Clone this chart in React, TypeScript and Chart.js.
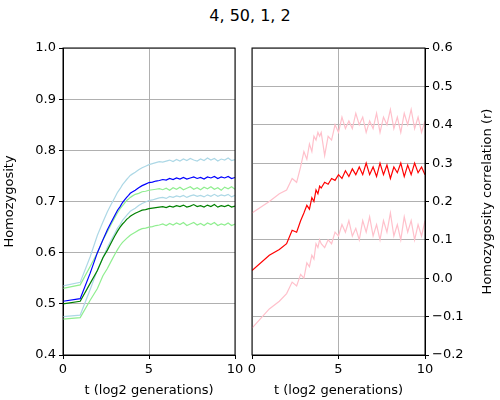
import { useEffect, useRef } from "react"
import { Chart, registerables } from "chart.js"

Chart.register(...registerables)

const tValues = [0, 1, 1.58, 2, 2.32, 2.58, 2.81, 3, 3.17, 3.32, 3.46, 3.58, 3.7, 3.81, 3.91,
  4.0, 4.2, 4.4, 4.6, 4.8, 5.0, 5.2, 5.4, 5.6, 5.8, 6.0, 6.2, 6.4, 6.6, 6.8, 7.0, 7.2, 7.4, 7.6, 7.8,
  8.0, 8.2, 8.4, 8.6, 8.8, 9.0, 9.2, 9.4, 9.6, 9.8, 10]

const blueMean = [0.505, 0.51, 0.56, 0.6, 0.625, 0.645, 0.66, 0.672, 0.683, 0.69, 0.698, 0.703, 0.708, 0.712, 0.716,
  0.718, 0.722, 0.727, 0.731, 0.734, 0.737, 0.738, 0.74, 0.741, 0.743, 0.742, 0.745, 0.743, 0.746, 0.744, 0.747, 0.744, 0.746, 0.748, 0.745,
  0.747, 0.744, 0.748, 0.746, 0.749, 0.745, 0.748, 0.746, 0.749, 0.745, 0.747]
const blueUpper = [0.535, 0.542, 0.592, 0.634, 0.66, 0.68, 0.695, 0.707, 0.718, 0.725, 0.733, 0.738, 0.743, 0.747, 0.751,
  0.753, 0.757, 0.762, 0.766, 0.769, 0.772, 0.774, 0.776, 0.778, 0.777, 0.779, 0.781, 0.778, 0.782, 0.779, 0.783, 0.78, 0.784, 0.781, 0.779,
  0.783, 0.78, 0.785, 0.781, 0.784, 0.779, 0.783, 0.781, 0.785, 0.78, 0.782]
const blueLower = [0.475, 0.478, 0.528, 0.566, 0.59, 0.61, 0.625, 0.637, 0.648, 0.655, 0.663, 0.668, 0.673, 0.677, 0.681,
  0.683, 0.687, 0.692, 0.696, 0.699, 0.702, 0.703, 0.705, 0.707, 0.708, 0.706, 0.71, 0.708, 0.711, 0.709, 0.712, 0.708, 0.711, 0.713, 0.71,
  0.712, 0.709, 0.713, 0.71, 0.714, 0.71, 0.713, 0.711, 0.714, 0.709, 0.712]
const greenMean = [0.5, 0.505, 0.54, 0.565, 0.59, 0.605, 0.62, 0.632, 0.642, 0.65, 0.656, 0.66, 0.665, 0.668, 0.671,
  0.673, 0.677, 0.68, 0.683, 0.684, 0.686, 0.687, 0.688, 0.689, 0.69, 0.688, 0.691, 0.689, 0.692, 0.69, 0.693, 0.689, 0.691, 0.694, 0.69,
  0.692, 0.689, 0.693, 0.69, 0.694, 0.689, 0.692, 0.69, 0.693, 0.689, 0.691]
const greenUpper = [0.53, 0.537, 0.573, 0.6, 0.625, 0.641, 0.656, 0.668, 0.678, 0.686, 0.692, 0.697, 0.702, 0.705, 0.708,
  0.71, 0.714, 0.716, 0.719, 0.72, 0.722, 0.723, 0.724, 0.725, 0.723, 0.726, 0.722, 0.727, 0.724, 0.728, 0.723, 0.726, 0.729, 0.724, 0.727,
  0.723, 0.728, 0.725, 0.729, 0.724, 0.727, 0.722, 0.728, 0.725, 0.729, 0.724]
const greenLower = [0.47, 0.473, 0.507, 0.53, 0.555, 0.569, 0.584, 0.596, 0.606, 0.614, 0.62, 0.624, 0.628, 0.631, 0.634,
  0.636, 0.64, 0.644, 0.647, 0.648, 0.65, 0.651, 0.653, 0.654, 0.656, 0.653, 0.657, 0.654, 0.658, 0.655, 0.659, 0.653, 0.656, 0.659, 0.654,
  0.657, 0.653, 0.658, 0.655, 0.659, 0.653, 0.656, 0.654, 0.658, 0.653, 0.656]

const redMean = [0.02, 0.06, 0.075, 0.09, 0.125, 0.12, 0.15, 0.17, 0.19, 0.18, 0.21, 0.2, 0.23, 0.22, 0.24,
  0.235, 0.25, 0.245, 0.26, 0.255, 0.27, 0.26, 0.28, 0.265, 0.285, 0.27, 0.29, 0.27, 0.3, 0.27, 0.29, 0.265, 0.3, 0.27, 0.295,
  0.26, 0.29, 0.275, 0.3, 0.265, 0.295, 0.27, 0.3, 0.275, 0.29, 0.27]
const pinkUpper = [0.17, 0.2, 0.22, 0.23, 0.26, 0.25, 0.29, 0.33, 0.31, 0.35, 0.33, 0.37, 0.36, 0.38, 0.37,
  0.38, 0.32, 0.37, 0.36, 0.4, 0.38, 0.42, 0.39, 0.41, 0.39, 0.43, 0.4, 0.42, 0.38, 0.41, 0.39, 0.43, 0.38, 0.42, 0.4,
  0.44, 0.39, 0.42, 0.38, 0.43, 0.4, 0.44, 0.39, 0.42, 0.38, 0.41]
const pinkLower = [-0.13, -0.08, -0.06, -0.04, -0.01, -0.02, 0.01, 0.0, 0.04, 0.03, 0.06, 0.05, 0.09, 0.08, 0.1,
  0.09, 0.08, 0.1, 0.09, 0.12, 0.11, 0.14, 0.12, 0.15, 0.11, 0.13, 0.1, 0.15, 0.12, 0.16, 0.11, 0.14, 0.1, 0.15, 0.12,
  0.17, 0.11, 0.14, 0.1, 0.16, 0.12, 0.15, 0.1, 0.14, 0.11, 0.15]

const FONT = { family: "'DejaVu Sans', sans-serif", size: 13 }
const GRID = "#b0b0b0"
const RIGHT_TITLE = "Homozygosity correlation (r)"

const points = (ys: number[]) => tValues.map((x, i) => ({ x, y: ys[i] }))
const line = (ys: number[], color: string, order: number) => ({
  data: points(ys),
  borderColor: color,
  borderWidth: 1.2,
  pointRadius: 0,
  fill: false,
  order,
})
const fmt = (v: number | string) => Number(v).toFixed(1).replace("-", "\u2212")

// matplotlib-style full frame around the plot area
const framePlugin = {
  id: "frame",
  afterDraw(chart: Chart) {
    const { ctx, chartArea: a } = chart
    ctx.save()
    ctx.strokeStyle = "#000"
    ctx.lineWidth = 1
    ctx.strokeRect(a.left, a.top, a.right - a.left, a.bottom - a.top)
    ctx.restore()
  },
}

// right-side axis title reading bottom-to-top, like matplotlib
const rightTitlePlugin = {
  id: "rightTitle",
  afterDraw(chart: Chart) {
    const { ctx, chartArea: a } = chart
    ctx.save()
    ctx.translate(chart.width - 12, (a.top + a.bottom) / 2)
    ctx.rotate(-Math.PI / 2)
    ctx.fillStyle = "#000"
    ctx.font = "13px 'DejaVu Sans', sans-serif"
    ctx.textAlign = "center"
    ctx.textBaseline = "middle"
    ctx.fillText(RIGHT_TITLE, 0, 0)
    ctx.restore()
  },
}

function Panel({ side }: { side: "left" | "right" }) {
  const ref = useRef<HTMLCanvasElement>(null)

  useEffect(() => {
    if (!ref.current) return
    const isLeft = side === "left"
    const datasets = isLeft
      ? [
          line(blueMean, "#0000ff", 1),
          line(greenMean, "#008000", 2),
          line(blueUpper, "#add8e6", 3),
          line(blueLower, "#add8e6", 4),
          line(greenUpper, "#90ee90", 5),
          line(greenLower, "#90ee90", 6),
        ]
      : [line(redMean, "#ff0000", 1), line(pinkUpper, "#ffc0cb", 2), line(pinkLower, "#ffc0cb", 3)]

    const chart = new Chart(ref.current, {
      type: "line",
      data: { datasets },
      plugins: isLeft ? [framePlugin] : [framePlugin, rightTitlePlugin],
      options: {
        animation: false,
        responsive: false,
        layout: {
          padding: isLeft ? { left: 0, right: 265, top: 48, bottom: 0 } : { left: 252, right: 0, top: 48, bottom: 0 },
        },
        plugins: { legend: { display: false }, tooltip: { enabled: false } },
        scales: {
          x: {
            type: "linear",
            min: 0,
            max: 10,
            ticks: { stepSize: 5, color: "#000", font: FONT, maxRotation: 0 },
            grid: { color: GRID, tickColor: "#000", tickLength: 4 },
            border: { color: "#000" },
            title: { display: true, text: "t (log2 generations)", color: "#000", font: FONT, padding: 2 },
            afterFit: (s: any) => { s.height = 45 },
          },
          y: {
            type: "linear",
            position: isLeft ? "left" : "right",
            min: isLeft ? 0.4 : -0.2,
            max: isLeft ? 1.0 : 0.6,
            ticks: { stepSize: 0.1, color: "#000", font: FONT, callback: (v) => fmt(v) },
            grid: { color: GRID, tickColor: "#000", tickLength: 4 },
            border: { color: "#000" },
            title: {
              display: isLeft,
              text: "Homozygosity",
              color: "#000",
              font: FONT,
              padding: 2,
            },
            afterFit: (s: any) => { s.width = isLeft ? 63 : 75 },
          },
        },
      },
    })
    return () => chart.destroy()
  }, [side])

  return (
    <canvas
      ref={ref}
      width={500}
      height={400}
      style={{ position: "absolute", left: 0, top: 0, width: 500, height: 400 }}
    />
  )
}

export default function App() {
  return (
    <div style={{ position: "fixed", left: 0, top: 0, width: 500, height: 400, background: "#fff" }}>
      <div
        style={{
          position: "absolute",
          top: 6,
          width: 500,
          textAlign: "center",
          fontFamily: "'DejaVu Sans', sans-serif",
          fontSize: 16,
        }}
      >
        4, 50, 1, 2
      </div>
      <Panel side="left" />
      <Panel side="right" />
    </div>
  )
}
